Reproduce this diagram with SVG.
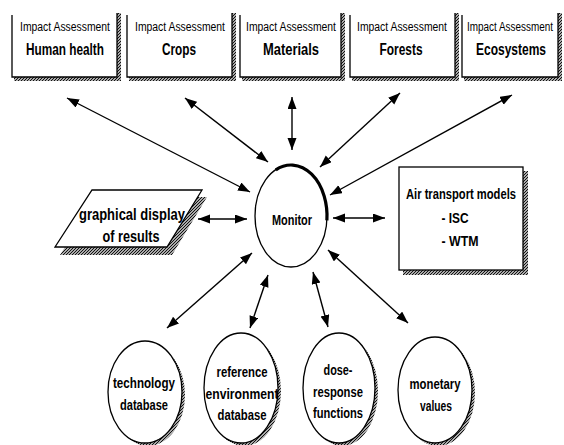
<svg xmlns="http://www.w3.org/2000/svg" width="564" height="445" viewBox="0 0 564 445">
<style>
text{font-family:"Liberation Sans",Arial,sans-serif;fill:#000;text-anchor:middle;font-weight:bold}
.sm{font-size:12px;font-weight:normal}
.big{font-size:16px}
.md{font-size:15px}
.sh{fill:url(#hatch);stroke:none}
.bx{fill:#fff;stroke:#000;stroke-width:1.3}
.edge{fill:none;stroke:#000;stroke-width:1.3}
.conn line{stroke:#000;stroke-width:1.4;marker-start:url(#ah);marker-end:url(#ah)}
</style>
<defs>
<pattern id="hatch" patternUnits="userSpaceOnUse" width="3" height="3">
<rect width="3" height="3" fill="#aaa"/>
<path d="M0,3 L3,0" stroke="#111" stroke-width="1"/>
</pattern>
<marker id="ah" markerUnits="userSpaceOnUse" markerWidth="13" markerHeight="10" refX="12" refY="4.5" orient="auto-start-reverse">
<path d="M0,0 L12,4.5 L0,9 z" fill="#000"/>
</marker>
</defs>
<rect width="564" height="445" fill="#fff"/>

<g id="box-human-health">
<rect class="sh" x="117" y="13" width="4" height="68"/>
<rect class="sh" x="14" y="77" width="103" height="4"/>
<path class="edge" d="M12,15 V77 H117 V13"/>
<text class="sm" x="65" y="31" textLength="90" lengthAdjust="spacingAndGlyphs">Impact Assessment</text>
<text class="big" x="65" y="55" textLength="78" lengthAdjust="spacingAndGlyphs">Human health</text>
</g>
<g id="box-crops">
<rect class="sh" x="232" y="13" width="4" height="68"/>
<rect class="sh" x="129" y="77" width="103" height="4"/>
<path class="edge" d="M127,15 V77 H232 V13"/>
<text class="sm" x="180" y="31" textLength="90" lengthAdjust="spacingAndGlyphs">Impact Assessment</text>
<text class="big" x="179" y="55" textLength="34" lengthAdjust="spacingAndGlyphs">Crops</text>
</g>
<g id="box-materials">
<rect class="sh" x="341" y="13" width="4" height="68"/>
<rect class="sh" x="242" y="77" width="99" height="4"/>
<path class="edge" d="M240,15 V77 H341 V13"/>
<text class="sm" x="291" y="31" textLength="90" lengthAdjust="spacingAndGlyphs">Impact Assessment</text>
<text class="big" x="291" y="55" textLength="56" lengthAdjust="spacingAndGlyphs">Materials</text>
</g>
<g id="box-forests">
<rect class="sh" x="455" y="13" width="4" height="68"/>
<rect class="sh" x="352" y="77" width="103" height="4"/>
<path class="edge" d="M350,15 V77 H455 V13"/>
<text class="sm" x="402" y="31" textLength="90" lengthAdjust="spacingAndGlyphs">Impact Assessment</text>
<text class="big" x="401" y="55" textLength="43" lengthAdjust="spacingAndGlyphs">Forests</text>
</g>
<g id="box-ecosystems">
<rect class="sh" x="558" y="13" width="4" height="68"/>
<rect class="sh" x="464" y="77" width="94" height="4"/>
<path class="edge" d="M462,15 V77 H558 V13"/>
<text class="sm" x="510" y="31" textLength="86" lengthAdjust="spacingAndGlyphs">Impact Assessment</text>
<text class="big" x="511" y="55" textLength="70" lengthAdjust="spacingAndGlyphs">Ecosystems</text>
</g>

<g class="conn" id="connectors">
<line x1="67" y1="98" x2="250" y2="192"/>
<line x1="185" y1="98" x2="268" y2="162"/>
<line x1="292" y1="97" x2="292" y2="150"/>
<line x1="400" y1="93" x2="320" y2="167"/>
<line x1="512" y1="95" x2="330" y2="195"/>
<line x1="198" y1="219" x2="247" y2="219"/>
<line x1="333" y1="218" x2="385" y2="218"/>
<line x1="252" y1="253" x2="167" y2="328"/>
<line x1="268" y1="275" x2="250" y2="328"/>
<line x1="313" y1="272" x2="328" y2="327"/>
<line x1="328" y1="250" x2="408" y2="323"/>
</g>

<g id="monitor">
<ellipse cx="291" cy="216" rx="36" ry="51" fill="#fff" stroke="#000" stroke-width="1.3"/>
<path d="M275.8,169.8 A36,51 0 0 1 326.9,220.4" fill="none" stroke="#000" stroke-width="3.2"/>
<text class="md" x="292" y="225" textLength="40" lengthAdjust="spacingAndGlyphs">Monitor</text>
</g>

<g id="graphical-display">
<polygon class="sh" points="97,197 207,197 172,255 60,255"/>
<polygon class="bx" points="92,190 202,190 167,247 55,247"/>
<text class="big" x="132" y="220" textLength="106" lengthAdjust="spacingAndGlyphs">graphical display</text>
<text class="big" x="131" y="242" textLength="57" lengthAdjust="spacingAndGlyphs">of results</text>
</g>

<g id="air-transport">
<rect class="sh" x="403" y="171" width="125" height="104"/>
<rect class="bx" x="399" y="167" width="124" height="103"/>
<text class="md" x="461" y="199" textLength="110" lengthAdjust="spacingAndGlyphs">Air transport models</text>
<text class="md" x="455" y="223" textLength="27" lengthAdjust="spacingAndGlyphs">- ISC</text>
<text class="md" x="460" y="246" textLength="37" lengthAdjust="spacingAndGlyphs">- WTM</text>
</g>

<g id="technology-database">
<ellipse class="sh" cx="148" cy="395" rx="37" ry="51"/>
<ellipse class="bx" cx="145" cy="392" rx="37" ry="51"/>
<text class="md" x="144" y="388" textLength="62" lengthAdjust="spacingAndGlyphs">technology</text>
<text class="md" x="144" y="410" textLength="48" lengthAdjust="spacingAndGlyphs">database</text>
</g>
<g id="reference-environment-database">
<ellipse class="sh" cx="244" cy="391" rx="37" ry="55"/>
<ellipse class="bx" cx="241" cy="388" rx="37" ry="55"/>
<text class="md" x="242" y="377" textLength="51" lengthAdjust="spacingAndGlyphs">reference</text>
<text class="md" x="242" y="399" textLength="73" lengthAdjust="spacingAndGlyphs">environment</text>
<text class="md" x="242" y="420" textLength="49" lengthAdjust="spacingAndGlyphs">database</text>
</g>
<g id="dose-response-functions">
<ellipse class="sh" cx="342" cy="391" rx="36" ry="55"/>
<ellipse class="bx" cx="339" cy="388" rx="36" ry="55"/>
<text class="md" x="338" y="375" textLength="29" lengthAdjust="spacingAndGlyphs">dose-</text>
<text class="md" x="338" y="397" textLength="50" lengthAdjust="spacingAndGlyphs">response</text>
<text class="md" x="338" y="418" textLength="50" lengthAdjust="spacingAndGlyphs">functions</text>
</g>
<g id="monetary-values">
<ellipse class="sh" cx="438" cy="393" rx="37" ry="53"/>
<ellipse class="bx" cx="435" cy="390" rx="37" ry="53"/>
<text class="md" x="435" y="389" textLength="51" lengthAdjust="spacingAndGlyphs">monetary</text>
<text class="md" x="436" y="411" textLength="32" lengthAdjust="spacingAndGlyphs">values</text>
</g>
</svg>
